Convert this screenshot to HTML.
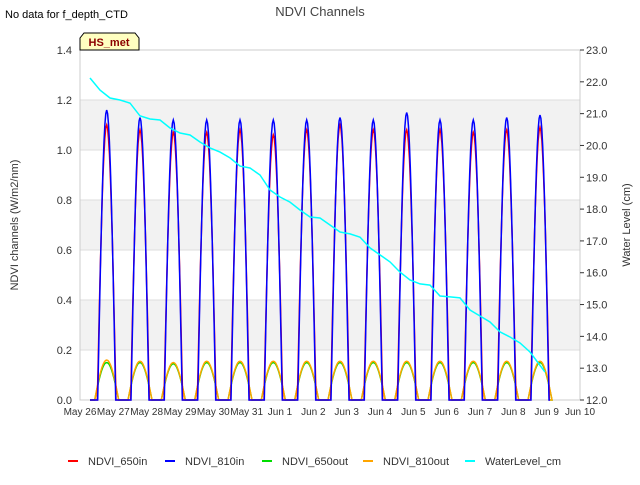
<!DOCTYPE html>
<html><head><meta charset="utf-8"><style>
body{margin:0;background:#fff;font-family:"Liberation Sans",sans-serif}
svg text{font-family:"Liberation Sans",sans-serif}
</style></head><body>
<svg id="c" width="640" height="480">
<rect x="0" y="0" width="640" height="480" fill="#fff"/>
<g id="bands"></g>
<g id="grid"></g>
<rect x="80" y="50" width="500" height="350" fill="none" stroke="#ccc"/>
<g id="series"></g>
<g id="axes" font-size="11" fill="#333"></g>
<text x="320" y="16" text-anchor="middle" font-size="13" fill="#444">NDVI Channels</text>
<text x="5" y="18" font-size="11" fill="#000">No data for f_depth_CTD</text>
<path d="M80,50 L80,38 L84,33 L135,33 L139,38 L139,50 Z" fill="#ffffc0" stroke="#000"/>
<text x="109" y="46" text-anchor="middle" font-size="11" font-weight="bold" fill="#8b0000">HS_met</text>
<text transform="translate(18,225) rotate(-90)" text-anchor="middle" font-size="11" fill="#333">NDVI channels (W/m2/nm)</text>
<text transform="translate(630,225) rotate(-90)" text-anchor="middle" font-size="11" fill="#333">Water Level (cm)</text>
<g id="legend" font-size="11" fill="#333"></g>
</svg>
<script>
const dayLabels=["May 26","May 27","May 28","May 29","May 30","May 31","Jun 1","Jun 2","Jun 3","Jun 4","Jun 5","Jun 6","Jun 7","Jun 8","Jun 9","Jun 10"];
const leftTicks=[0,0.2,0.4,0.6,0.8,1.0,1.2,1.4];
const rightTicks=[12,13,14,15,16,17,18,19,20,21,22,23];
const peak810in=[1.16,1.13,1.12,1.12,1.12,1.12,1.12,1.13,1.12,1.15,1.12,1.12,1.13,1.14];
const peak650in=[1.10,1.08,1.07,1.07,1.08,1.06,1.08,1.10,1.08,1.08,1.08,1.07,1.08,1.09];
const peak650out=[0.15,0.15,0.145,0.15,0.15,0.15,0.15,0.15,0.15,0.15,0.15,0.15,0.15,0.15];
const peak810out=[0.16,0.155,0.15,0.155,0.155,0.155,0.155,0.155,0.155,0.155,0.155,0.155,0.155,0.155];
const wlDays=[0.30,0.60,0.90,1.20,1.50,1.80,2.10,2.40,2.70,3.00,3.30,3.60,3.90,4.20,4.50,4.80,5.10,5.40,5.70,6.00,6.30,6.60,6.90,7.20,7.50,7.80,8.10,8.40,8.70,9.00,9.30,9.60,9.90,10.20,10.50,10.80,11.10,11.40,11.70,12.00,12.30,12.60,12.90,13.20,13.50,13.95];
const wlVals=[22.12,21.74,21.49,21.43,21.33,20.93,20.83,20.80,20.55,20.39,20.33,20.11,19.92,19.79,19.61,19.35,19.29,19.07,18.60,18.38,18.22,17.97,17.75,17.72,17.50,17.28,17.22,17.12,16.78,16.56,16.34,16.02,15.77,15.65,15.61,15.27,15.24,15.21,14.83,14.64,14.45,14.14,13.98,13.79,13.51,12.88];
const NS="http://www.w3.org/2000/svg";
const X=d=>80+d*500/15, YL=v=>400-v*350/1.4, YR=v=>400-(v-12)*350/11;
function mk(t,a,p){const e=document.createElementNS(NS,t);for(const k in a)e.setAttribute(k,a[k]);p.appendChild(e);return e;}
const bands=document.getElementById('bands'),grid=document.getElementById('grid'),axes=document.getElementById('axes'),ser=document.getElementById('series'),leg=document.getElementById('legend');
[[0.2,0.4],[0.6,0.8],[1.0,1.2]].forEach(b=>{const r=mk('rect',{x:80,y:YL(b[1]),width:500,height:YL(b[0])-YL(b[1]),fill:'#f2f2f2'},bands);

});
leftTicks.forEach(v=>{const l=mk('line',{x1:80,x2:580,y1:YL(v),y2:YL(v),stroke:'#ddd'},grid);


const t=mk('text',{x:72,y:YL(v)+4,'text-anchor':'end'},axes);t.textContent=v.toFixed(1);

});
rightTicks.forEach(v=>{const t=mk('text',{x:586,y:YR(v)+4},axes);t.textContent=v.toFixed(1);


mk('line',{x1:580,x2:584,y1:YR(v),y2:YR(v),stroke:'#333'},axes);});
dayLabels.forEach((s,i)=>{const t=mk('text',{x:X(i),y:415,'text-anchor':'middle','font-size':'10'},axes);t.textContent=s;

});
function pulses(peaks,color,half,name){let d='M'+X(0.3)+','+YL(0);
peaks.forEach((p,n)=>{const c=n+0.8;d+=' L'+X(c-half).toFixed(1)+','+YL(0);
for(let k=0;k<=20;k++){const t=k/20,dd=c-half+2*half*t;d+=' L'+X(dd).toFixed(1)+','+YL(p*Math.sin(Math.PI*t)).toFixed(1);}});
d+=' L'+X(14.1)+','+YL(0);
const pa=mk('path',{d:d,fill:'none',stroke:color,'stroke-width':1.5},ser);

}
pulses(peak650out,'#00dd00',0.36,'ndvi-650out-line');
pulses(peak810out,'#ffa500',0.36,'ndvi-810out-line');
pulses(peak650in,'#ff0000',0.28,'ndvi-650in-line');
pulses(peak810in,'#0000ff',0.27,'ndvi-810in-line');
let wd='';wlDays.forEach((d,i)=>{wd+=(i?' L':'M')+X(d).toFixed(1)+','+YR(wlVals[i]).toFixed(1);});
const wl=mk('path',{d:wd,fill:'none',stroke:'#00ffff','stroke-width':1.5},ser);


const items=[['NDVI_650in','#ff0000',68],['NDVI_810in','#0000ff',165],['NDVI_650out','#00dd00',262],['NDVI_810out','#ffa500',363],['WaterLevel_cm','#00ffff',465]];
items.forEach(it=>{const g=mk('g',{},leg);


mk('line',{x1:it[2],x2:it[2]+10,y1:461,y2:461,stroke:it[1],'stroke-width':2},g);
const t=mk('text',{x:it[2]+20,y:465},g);t.textContent=it[0];});
</script>
</body></html>
